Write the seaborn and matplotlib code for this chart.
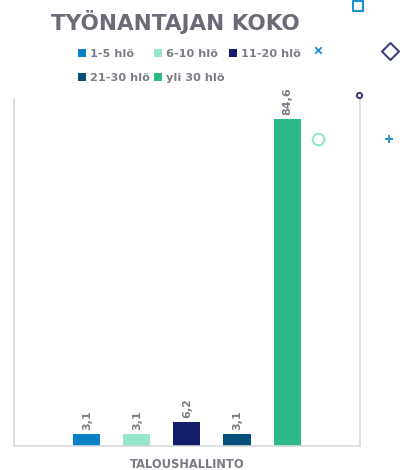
import numpy as np
import pandas as pd
import matplotlib
matplotlib.use('Agg')
import matplotlib.pyplot as plt
import seaborn as sns

category = ['TALOUSHALLINTO']
groups = ['1-5 hlö', '6-10 hlö', '11-20 hlö', '21-30 hlö', 'yli 30 hlö']
values = [3.1, 3.1, 6.2, 3.1, 84.6]
colors = ['#0a80c6', '#95e6cb', '#131d6b', '#04507a', '#2db887']

df = pd.DataFrame({'Ala': category * len(groups), 'Koko': groups, 'Osuus': values})

sns.set_style('white')
plt.rcParams['font.family'] = ['DejaVu Sans']

text_gray = '#7c7c86'
line_gray = '#d9d9d9'

fig = plt.figure(figsize=(4.15, 4.70), dpi=100)
ax = fig.add_axes([0.0337, 0.0511, 0.8338, 0.7383])

sns.barplot(data=df, x='Ala', y='Osuus', hue='Koko', hue_order=groups,
            palette=colors, width=0.7225, gap=0.46, ax=ax, saturation=1,
            linewidth=0, legend=True)

for cont in ax.containers:
    labels = [f'{v:.1f}'.replace('.', ',') for v in cont.datavalues]
    ax.bar_label(cont, labels=labels, rotation=90, padding=3, color=text_gray,
                 fontsize=8, fontweight='bold')

ax.set_ylim(0, 89.8)
ax.set_xlim(-0.5, 0.5)
ax.set_yticks([])
ax.set_ylabel('')
ax.set_xlabel('')
ax.tick_params(axis='x', length=0, pad=9, labelsize=8.3, colors=text_gray)
for lab in ax.get_xticklabels():
    lab.set_fontweight('bold')

ax.spines['top'].set_visible(False)
for side in ['left', 'right', 'bottom']:
    ax.spines[side].set_color(line_gray)
    ax.spines[side].set_linewidth(1.2)

# legend filled row by row like the original
handles, labels = ax.get_legend_handles_labels()
ax.get_legend().remove()
order = [0, 3, 1, 4, 2]
fig.legend([handles[i] for i in order], [labels[i] for i in order], ncol=3,
           loc='upper left', bbox_to_anchor=(0.163, 0.917),
           frameon=False, handlelength=0.75, handleheight=0.75,
           handletextpad=0.35, columnspacing=0.35, labelspacing=1.2,
           prop={'weight': 'bold', 'size': 8.1}, labelcolor=text_gray)

fig.text(0.422, 0.953, 'TYÖNANTAJAN KOKO', ha='center', va='center',
         fontsize=15.5, fontweight='bold', color='#6b6b78')

# decorative markers around the chart (figure pixel positions)
deco_x = [358, 318, 390, 359, 318, 389]
deco_y = [6, 50, 51, 95, 139, 139]
deco_m = ['s', 'x', 'D', 'o', 'o', '+']
deco_c = ['#1b8fd0', '#1b8fd0', '#3c3f7a', '#3c3f7a', '#95e6cb', '#1b8fd0']
deco_s = [55, 22, 75, 14, 70, 40]
deco_fill = [False, True, False, False, False, True]

overlay = fig.add_axes([0, 0, 1, 1], facecolor='none')
overlay.set_xlim(0, 415)
overlay.set_ylim(470, 0)
overlay.axis('off')
for x, y, m, c, s, f in zip(deco_x, deco_y, deco_m, deco_c, deco_s, deco_fill):
    if f:
        overlay.scatter([x], [y], marker=m, s=s, color=c, linewidths=1.3)
    else:
        overlay.scatter([x], [y], marker=m, s=s, facecolors='white', edgecolors=c, linewidths=1.5)

fig.savefig('out.png', dpi=100)
